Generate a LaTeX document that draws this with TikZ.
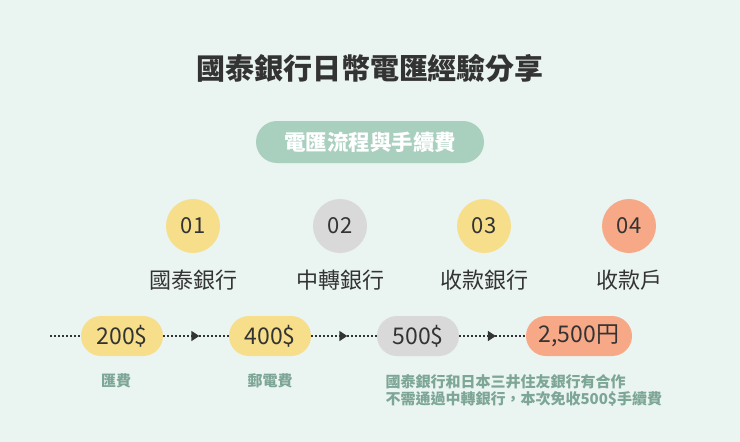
\documentclass[tikz,border=0pt]{standalone}
\usepackage{fontspec}
\setmainfont{Noto Sans CJK TC}
\usetikzlibrary{arrows.meta,decorations.markings}
\definecolor{bg}{HTML}{EAF4F1}
\definecolor{pillg}{HTML}{A9CFBF}
\definecolor{yel}{HTML}{F7DE8A}
\definecolor{gry}{HTML}{D9D9D9}
\definecolor{org}{HTML}{F7A987}
\definecolor{cap}{HTML}{7DA696}
\definecolor{ink}{HTML}{333333}
\tikzset{
 circ/.style={circle,minimum size=54pt,inner sep=0pt,font=\fontsize{22}{22}\selectfont,text=ink},
 lbl/.style={font=\fontsize{22}{22}\selectfont,text=ink},
 amt/.style={rounded corners=20pt,minimum height=40pt,inner sep=0pt,font=\fontsize{23}{23}\selectfont,text=ink},
 capt/.style={font=\fontsize{15}{17}\selectfont\bfseries,text=cap},
 flow/.style={line width=1.6pt,ink,dash pattern=on 1.6pt off 2.4pt},
 arr/.style={flow,postaction={decorate},decoration={markings,mark=at position 0.55 with {\arrow{Triangle[length=8pt,width=10pt]}}}}
}
\begin{document}
\begin{tikzpicture}[x=1pt,y=-1pt]
\fill[bg] (0,0) rectangle (740,442);
\useasboundingbox (0,0) rectangle (740,442);
\node[font=\fontsize{29}{29}\selectfont\bfseries,text=ink] (title) at (370,68) {國泰銀行日幣電匯經驗分享};
\node[fill=pillg,rounded corners=21pt,minimum width=228pt,minimum height=42pt,text=white,font=\fontsize{21.5}{21.5}\selectfont\bfseries] (sub) at (370,142) {電匯流程與手續費};
\node[circ,fill=yel] (c1) at (193,226) {01};
\node[circ,fill=gry] (c2) at (340,226) {02};
\node[circ,fill=yel] (c3) at (484,226) {03};
\node[circ,fill=org] (c4) at (629,226) {04};
\node[lbl] (l1) at (193,280) {國泰銀行};
\node[lbl] (l2) at (340,280) {中轉銀行};
\node[lbl] (l3) at (484,280) {收款銀行};
\node[lbl] (l4) at (629,280) {收款戶};
\coordinate (start) at (50,336);
\node[amt,fill=yel,minimum width=82pt] (a1) at (122,336) {200\$};
\node[amt,fill=yel,minimum width=82pt] (a2) at (270,336) {400\$};
\node[amt,fill=gry,minimum width=82pt] (a3) at (418,336) {500\$};
\node[amt,fill=org,minimum width=106pt] (a4) at (579,336) {2,500円};
\draw[flow] (start) -- (a1);
\draw[arr] (a1) -- (a2);
\draw[arr] (a2) -- (a3);
\draw[arr] (a3) -- (a4);
\node[capt] (k1) at (116,381) {匯費};
\node[capt] (k2) at (270,381) {郵電費};
\node[capt,anchor=north west,align=left] (k3) at (382,371) {國泰銀行和日本三井住友銀行有合作\\不需通過中轉銀行，本次免收500\$手續費};
\end{tikzpicture}
\end{document}
